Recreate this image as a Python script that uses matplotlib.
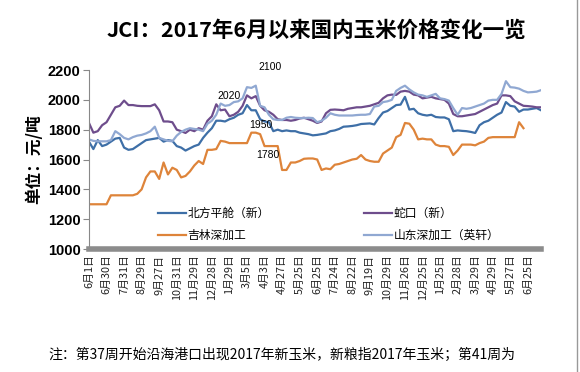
import numpy as np
import matplotlib
matplotlib.use('Agg')
import matplotlib.pyplot as plt
from matplotlib.lines import Line2D

plt.rcParams['font.family'] = ['Noto Sans CJK SC', 'DejaVu Sans']

# Tick labels (one every 4 points)
tick_labels = ['6月1日', '6月30日', '7月31日', '8月29日', '9月27日', '10月31日',
               '11月29日', '12月28日', '1月29日', '3月5日', '4月3日', '4月27日',
               '5月25日', '6月25日', '7月24日', '8月22日', '9月19日', '10月29日',
               '11月26日', '12月25日', '1月25日', '2月28日', '3月29日', '4月29日',
               '5月27日', '6月25日']

beifang = [1720, 1670, 1730, 1690, 1700, 1720, 1740, 1745, 1680, 1665,
           1670, 1690, 1710, 1730, 1735, 1740, 1745, 1720, 1730, 1725,
           1690, 1680, 1660, 1675, 1690, 1700, 1745, 1780, 1810, 1860,
           1860, 1855, 1870, 1880, 1900, 1910, 1965, 1930, 1930, 1870,
           1855, 1850, 1790, 1800, 1790, 1795, 1790, 1790, 1780, 1775,
           1770, 1762, 1765, 1770, 1775, 1790, 1795, 1805, 1820, 1822,
           1825, 1830, 1838, 1840, 1842, 1835, 1878, 1915, 1925, 1945,
           1965, 1968, 2020, 1935, 1940, 1910, 1900, 1895, 1900, 1885,
           1882, 1882, 1870, 1790, 1795, 1792, 1790, 1785, 1778, 1830,
           1850, 1860, 1880, 1900, 1915, 1985, 1960, 1955, 1920, 1935,
           1935, 1940, 1945, 1930]

shekou = [1845, 1780, 1790, 1830, 1850, 1900, 1950, 1960, 1995, 1965,
          1965, 1960, 1958, 1958, 1958, 1970, 1930, 1855, 1855, 1850,
          1800, 1790, 1778, 1800, 1790, 1810, 1800, 1860, 1890, 1970,
          1930, 1935, 1890, 1900, 1920, 1960, 2030, 2010, 2025, 1960,
          1930, 1920, 1900, 1870, 1865, 1865, 1860, 1865, 1875, 1880,
          1870, 1860, 1845, 1855, 1910, 1933, 1935, 1933, 1930, 1940,
          1945, 1950, 1950, 1955, 1960, 1970, 1980, 2010, 2030, 2035,
          2033, 2055, 2060, 2055, 2035, 2030, 2010, 2015, 2020, 2010,
          2005, 2000, 1975, 1905, 1890, 1890, 1895, 1900, 1905, 1920,
          1935, 1950, 1965, 1975, 2030, 2030, 2025, 1990, 1975, 1960,
          1958, 1955, 1950, 1950]

jilin = [1300, 1300, 1300, 1300, 1300, 1360, 1360, 1360, 1360, 1360,
         1360, 1370, 1400, 1480, 1520, 1520, 1470, 1580, 1500, 1545,
         1530, 1480, 1490, 1520, 1560, 1590, 1570, 1665, 1665, 1670,
         1725, 1720, 1710, 1710, 1710, 1710, 1710, 1780, 1780, 1770,
         1690, 1690, 1690, 1690, 1530, 1530, 1580, 1580, 1590, 1605,
         1607, 1607, 1600, 1530, 1540, 1535, 1565, 1570, 1580, 1590,
         1600, 1605, 1630, 1600, 1590, 1585, 1585, 1640, 1660, 1680,
         1750, 1765, 1845, 1840, 1800, 1735, 1740, 1735, 1735, 1700,
         1690, 1690, 1685, 1630, 1660, 1700, 1700, 1700, 1695, 1710,
         1720, 1745, 1750, 1750, 1750, 1750, 1750, 1750, 1850, 1810,
         np.nan, np.nan, np.nan, np.nan]

shandong = [1735, 1725, 1722, 1722, 1722, 1730, 1790, 1770, 1745, 1735,
            1750, 1760, 1765, 1775, 1790, 1820, 1745, 1735, 1725, 1722,
            1760, 1785, 1800, 1810, 1805, 1800, 1790, 1840, 1860, 1900,
            1975, 1960, 1965, 1985, 1990, 2010, 2085, 2080, 2095, 1960,
            1950, 1900, 1870, 1865, 1865, 1880, 1885, 1880, 1878, 1878,
            1880, 1878, 1850, 1860, 1880, 1910, 1900, 1895, 1895, 1895,
            1895, 1898, 1900, 1900, 1905, 1955, 1960, 1985, 1990, 2000,
            2060, 2080, 2095, 2070, 2050, 2035, 2030, 2020, 2030, 2040,
            2010, 2005, 1995, 1945, 1900, 1945, 1940, 1945, 1955, 1965,
            1975, 1995, 2000, 2000, 2040, 2125, 2085, 2082, 2075, 2060,
            2050, 2052, 2055, 2065]

# annotations: (text, index, value)
notes = [('2100', 41.3, 2220), ('2020', 32, 2027),
         ('1950', 39.2, 1833), ('1780', 40.7, 1629)]

x = np.arange(len(beifang))

fig = plt.figure(figsize=(5.8, 3.72), dpi=100)
ax = fig.add_axes([0.1534, 0.3306, 0.7794, 0.4812])

l1, = ax.plot(x, beifang, color='#3e6fa7', lw=1.6, label='北方平舱（新）')
l2, = ax.plot(x, shekou, color='#6e4d8c', lw=1.6, label='蛇口（新）')
l3, = ax.plot(x, jilin, color='#de843a', lw=1.6, label='吉林深加工')
l4, = ax.plot(x, shandong, color='#90a8d2', lw=1.6, label='山东深加工（英轩）')

for txt, xi, yv in notes:
    ax.text(xi, yv, txt, ha='center', va='center', fontsize=7.5,
            family='Liberation Sans', clip_on=False)

ax.set_xlim(0, 103)
ax.set_ylim(1000, 2200)
ax.set_yticks(range(1000, 2201, 200))
ax.set_yticklabels([str(v) for v in range(1000, 2201, 200)],
                   family='Liberation Sans', fontweight='bold', fontsize=10.5)
ax.set_xticks(range(0, 101, 4))
ax.set_xticklabels(tick_labels, rotation=90, fontsize=7.8, color='#222222')

ax.spines['top'].set_visible(False)
ax.spines['right'].set_visible(False)
ax.spines['left'].set_color('#888888')
ax.spines['bottom'].set_color('#8c8c8c')
ax.spines['bottom'].set_linewidth(4)
ax.tick_params(axis='y', length=4, color='#888888', pad=2)
ax.tick_params(axis='x', length=0, pad=4)

ax.set_ylabel('单位：元/吨', fontsize=12, fontweight='bold', labelpad=3)

ax.legend([l1, l3, l2, l4], [l1.get_label(), l3.get_label(), l2.get_label(), l4.get_label()],
          ncol=2, frameon=False, fontsize=8.5, loc='upper left',
          bbox_to_anchor=(0.262, 0.46), bbox_transform=fig.transFigure,
          handlelength=2.4, handletextpad=0.1, columnspacing=8.0,
          labelspacing=0.75, borderpad=0)

fig.text(0.545, 0.918, 'JCI：2017年6月以来国内玉米价格变化一览', ha='center', va='center',
         fontsize=15.5, fontweight='bold')
fig.text(0.083, 0.046, '注：第37周开始沿海港口出现2017年新玉米，新粮指2017年玉米；第41周为',
         ha='left', va='center', fontsize=10)

fig.add_artist(Line2D([0.995, 0.995], [0, 1], color='#999999', lw=1))

fig.savefig('out.png', dpi=100)
